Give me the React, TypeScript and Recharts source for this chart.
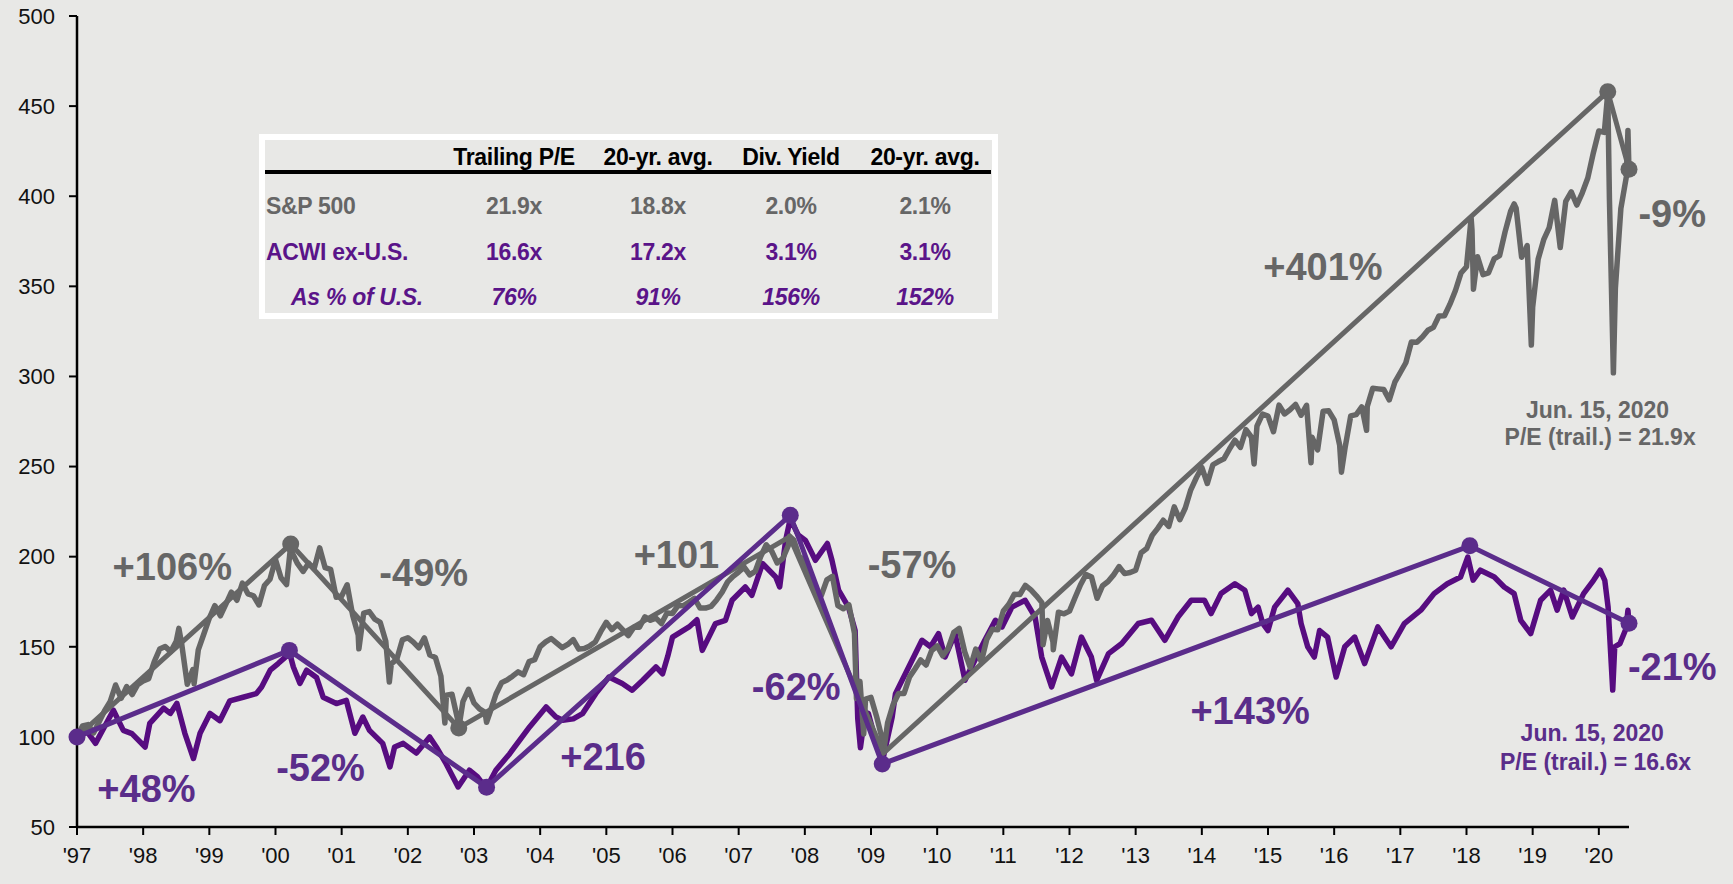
import React from "react";
import { LineChart, Line, XAxis, YAxis, ReferenceDot } from "recharts";

// S&P 500 price index, rebased to 100 at 1997 (year fraction, level)
const SPX_POINTS: [number, number][] = [
  [1997.0, 100], [1997.083, 106.1], [1997.167, 106.8], [1997.25, 102.2], [1997.333, 108.2], [1997.417, 114.5],
  [1997.5, 119.5], [1997.583, 128.8], [1997.667, 121.4], [1997.75, 127.9], [1997.833, 123.5], [1997.917, 129.0],
  [1998.0, 131.0], [1998.083, 132.3], [1998.167, 141.7], [1998.25, 148.7], [1998.333, 150.1], [1998.417, 147.3],
  [1998.5, 153.1], [1998.54, 160.2], [1998.583, 151.3], [1998.667, 129.2], [1998.75, 137.3], [1998.77, 129.5],
  [1998.833, 148.3], [1998.917, 157.1],
  [1999.0, 165.9], [1999.083, 172.8], [1999.167, 167.2], [1999.25, 173.7], [1999.333, 180.3], [1999.417, 175.8],
  [1999.5, 185.3], [1999.583, 179.4], [1999.667, 178.3], [1999.75, 173.2], [1999.833, 184.0], [1999.917, 187.5],
  [2000.0, 198.4], [2000.083, 188.3], [2000.167, 184.5], [2000.23, 206.2], [2000.25, 202.3], [2000.333, 196.1],
  [2000.417, 191.8], [2000.5, 196.4], [2000.583, 193.2], [2000.667, 204.9], [2000.75, 193.9], [2000.833, 193.0],
  [2000.917, 177.5],
  [2001.0, 178.2], [2001.083, 184.4], [2001.167, 167.4], [2001.25, 156.6], [2001.26, 148.9], [2001.333, 168.7],
  [2001.417, 169.5], [2001.5, 165.3], [2001.583, 163.5], [2001.667, 153.0], [2001.72, 130.4], [2001.75, 140.5],
  [2001.833, 143.1], [2001.917, 153.8],
  [2002.0, 155.0], [2002.083, 152.6], [2002.167, 149.4], [2002.25, 154.9], [2002.333, 145.4], [2002.417, 144.1],
  [2002.5, 133.6], [2002.56, 107.7], [2002.583, 123.1], [2002.667, 123.7], [2002.75, 110.1], [2002.77, 104.9],
  [2002.833, 119.6], [2002.917, 126.4],
  [2003.0, 118.8], [2003.083, 115.5], [2003.167, 113.6], [2003.19, 108.1], [2003.25, 114.5], [2003.333, 123.8],
  [2003.417, 130.1], [2003.5, 131.6], [2003.583, 133.7], [2003.667, 136.1], [2003.75, 134.5], [2003.833, 141.8],
  [2003.917, 142.9],
  [2004.0, 150.1], [2004.083, 152.7], [2004.167, 154.6], [2004.25, 152.0], [2004.333, 149.5], [2004.417, 151.3],
  [2004.5, 154.0], [2004.583, 148.7], [2004.667, 149.1], [2004.75, 150.5], [2004.833, 152.6], [2004.917, 158.5],
  [2005.0, 163.6], [2005.083, 159.5], [2005.167, 162.5], [2005.25, 159.4], [2005.333, 156.2], [2005.417, 160.9],
  [2005.5, 160.8], [2005.583, 166.6], [2005.667, 164.7], [2005.75, 165.9], [2005.833, 162.9], [2005.917, 168.7],
  [2006.0, 168.5], [2006.083, 172.8], [2006.167, 172.9], [2006.25, 174.8], [2006.333, 176.9], [2006.417, 171.5],
  [2006.5, 171.5], [2006.583, 172.4], [2006.667, 176.0], [2006.75, 180.3], [2006.833, 186.0], [2006.917, 189.1],
  [2007.0, 191.5], [2007.083, 194.2], [2007.167, 189.9], [2007.25, 191.8], [2007.333, 200.1], [2007.417, 206.6],
  [2007.5, 203.0], [2007.583, 196.5], [2007.667, 199.0], [2007.75, 206.1], [2007.77, 211.3], [2007.833, 209.2],
  [2007.917, 200.0],
  [2008.0, 198.2], [2008.083, 186.1], [2008.167, 179.6], [2008.25, 178.6], [2008.333, 187.1], [2008.417, 189.1],
  [2008.5, 172.8], [2008.583, 171.1], [2008.667, 173.2], [2008.75, 157.5], [2008.78, 121.4], [2008.833, 130.8],
  [2008.89, 101.6], [2008.917, 121.0],
  [2009.0, 121.9], [2009.083, 111.5], [2009.167, 99.2], [2009.19, 91.3], [2009.25, 107.7], [2009.333, 117.8],
  [2009.417, 124.1], [2009.5, 124.1], [2009.583, 133.3], [2009.667, 137.8], [2009.75, 142.7], [2009.833, 139.9],
  [2009.917, 147.9],
  [2010.0, 150.5], [2010.083, 145.0], [2010.167, 149.1], [2010.25, 157.9], [2010.333, 160.2], [2010.417, 147.1],
  [2010.5, 138.5], [2010.583, 148.7], [2010.667, 141.7], [2010.75, 154.1], [2010.833, 159.7], [2010.917, 159.4],
  [2011.0, 169.8], [2011.083, 173.6], [2011.167, 179.2], [2011.25, 179.0], [2011.333, 184.1], [2011.417, 181.6],
  [2011.5, 178.3], [2011.583, 174.5], [2011.6, 151.1], [2011.667, 164.6], [2011.75, 152.7], [2011.755, 148.4],
  [2011.833, 169.2], [2011.917, 168.3],
  [2012.0, 169.8], [2012.083, 177.2], [2012.167, 184.4], [2012.25, 190.1], [2012.333, 188.7], [2012.417, 176.9],
  [2012.5, 183.9], [2012.583, 186.2], [2012.667, 189.9], [2012.75, 194.5], [2012.833, 190.6], [2012.917, 191.2],
  [2013.0, 192.5], [2013.083, 202.2], [2013.167, 204.5], [2013.25, 211.8], [2013.333, 215.7], [2013.417, 220.2],
  [2013.5, 216.8], [2013.583, 227.6], [2013.667, 220.5], [2013.75, 227.0], [2013.833, 237.1], [2013.917, 243.8],
  [2014.0, 249.5], [2014.083, 240.6], [2014.167, 251.0], [2014.25, 252.8], [2014.333, 254.3], [2014.417, 259.7],
  [2014.5, 264.6], [2014.583, 260.6], [2014.667, 270.5], [2014.75, 266.3], [2014.79, 251.4], [2014.833, 272.4],
  [2014.917, 279.1],
  [2015.0, 278.0], [2015.083, 269.3], [2015.167, 284.1], [2015.25, 279.2], [2015.333, 281.5], [2015.417, 284.5],
  [2015.5, 278.5], [2015.583, 284.0], [2015.65, 252.1], [2015.667, 266.2], [2015.75, 259.2], [2015.833, 280.7],
  [2015.917, 280.9],
  [2016.0, 275.9], [2016.083, 261.9], [2016.11, 246.9], [2016.167, 260.9], [2016.25, 278.1], [2016.333, 278.8],
  [2016.417, 283.1], [2016.49, 270.1], [2016.5, 283.3], [2016.583, 293.4], [2016.667, 293.1], [2016.75, 292.7],
  [2016.833, 287.0], [2016.917, 296.8],
  [2017.0, 302.2], [2017.083, 307.6], [2017.167, 319.1], [2017.25, 319.0], [2017.333, 321.9], [2017.417, 325.6],
  [2017.5, 327.2], [2017.583, 333.5], [2017.667, 333.7], [2017.75, 340.1], [2017.833, 347.7], [2017.917, 357.4],
  [2018.0, 360.9], [2018.07, 387.8], [2018.083, 381.2], [2018.105, 348.4], [2018.167, 366.4], [2018.25, 356.5],
  [2018.333, 357.5], [2018.417, 365.2], [2018.5, 367.0], [2018.583, 380.2], [2018.667, 391.7], [2018.72, 395.7],
  [2018.75, 393.4], [2018.833, 366.1], [2018.917, 372.6], [2018.98, 317.4],
  [2019.0, 338.4], [2019.083, 365.1], [2019.167, 375.9], [2019.25, 382.6], [2019.333, 397.7], [2019.417, 371.5],
  [2019.5, 397.1], [2019.583, 402.4], [2019.667, 395.1], [2019.75, 401.9], [2019.833, 410.1], [2019.917, 424.0],
  [2020.0, 436.2], [2020.083, 435.4], [2020.135, 457.1], [2020.16, 398.8], [2020.22, 302.0], [2020.25, 348.9],
  [2020.333, 393.2], [2020.417, 411.0], [2020.44, 436.4], [2020.456, 414.0],
];

// MSCI ACWI ex-U.S., rebased to 100 at 1997
const ACWI_POINTS: [number, number][] = [
  [1997.0, 100], [1997.15, 103], [1997.28, 96.4], [1997.45, 108], [1997.55, 114.8], [1997.7, 103.6],
  [1997.83, 101.8], [1998.03, 94.4], [1998.1, 107.5], [1998.31, 115.9], [1998.41, 113], [1998.51, 118.6],
  [1998.63, 102], [1998.76, 88], [1998.86, 102], [1999.01, 113], [1999.16, 109], [1999.31, 120],
  [1999.51, 122], [1999.71, 124], [1999.79, 127.7], [1999.92, 137], [2000.04, 140.7], [2000.14, 144],
  [2000.21, 147], [2000.27, 138.8], [2000.37, 129.7], [2000.47, 137], [2000.62, 133], [2000.72, 122],
  [2000.92, 118.5], [2001.07, 120.3], [2001.2, 102], [2001.32, 111], [2001.42, 103.6], [2001.62, 96.4],
  [2001.73, 83.3], [2001.8, 94.4], [2001.93, 96.4], [2002.13, 91], [2002.33, 100], [2002.43, 94.4],
  [2002.58, 85], [2002.76, 72.2], [2002.93, 81.5], [2003.05, 78], [2003.13, 74], [2003.2, 72.5],
  [2003.33, 81.5], [2003.54, 90.7], [2003.84, 105.5], [2004.09, 116.6], [2004.24, 111], [2004.34, 109.2],
  [2004.5, 110], [2004.64, 112.9], [2004.84, 124], [2005.04, 133.2], [2005.24, 129.6], [2005.39, 125.9],
  [2005.55, 131.4], [2005.75, 138.8], [2005.85, 135], [2005.93, 145], [2006.0, 155.4], [2006.25, 161],
  [2006.37, 165], [2006.45, 148], [2006.65, 162.9], [2006.8, 164.7], [2006.9, 175.8], [2007.1, 183.2],
  [2007.2, 178.6], [2007.36, 196.2], [2007.56, 188.7], [2007.62, 183.2], [2007.71, 209], [2007.78, 221],
  [2007.9, 212], [2008.01, 209], [2008.16, 198], [2008.34, 207.3], [2008.41, 198], [2008.51, 181.4],
  [2008.66, 172], [2008.76, 159], [2008.8, 110], [2008.84, 94], [2008.9, 110], [2008.96, 113],
  [2009.07, 98], [2009.17, 86], [2009.32, 111], [2009.37, 124], [2009.57, 138.8], [2009.77, 153.6],
  [2009.9, 150], [2010.02, 157.3], [2010.12, 144.3], [2010.27, 157.3], [2010.42, 131.4], [2010.57, 142.5],
  [2010.72, 153.6], [2010.88, 164.7], [2010.98, 161], [2011.13, 172], [2011.33, 175.8], [2011.48, 166.5],
  [2011.58, 144.3], [2011.73, 127.7], [2011.88, 144.3], [2012.03, 135], [2012.18, 155.4], [2012.33, 144.3],
  [2012.41, 131.4], [2012.59, 146.2], [2012.79, 151.8], [2013.04, 162.9], [2013.24, 164.7], [2013.44, 153.6],
  [2013.64, 166.5], [2013.84, 175.8], [2014.04, 175.8], [2014.14, 168.4], [2014.29, 179.5], [2014.5, 185],
  [2014.65, 181.4], [2014.75, 168.4], [2014.85, 172], [2014.92, 163], [2015.0, 159], [2015.1, 172],
  [2015.3, 181.4], [2015.45, 174], [2015.5, 162.9], [2015.6, 150], [2015.7, 144.3], [2015.78, 159],
  [2015.9, 155.4], [2016.03, 133.2], [2016.16, 150], [2016.31, 155.4], [2016.46, 140.7], [2016.66, 161],
  [2016.86, 150], [2017.06, 162.9], [2017.31, 170.3], [2017.51, 179.5], [2017.71, 185], [2017.91, 188.7],
  [2018.02, 199.8], [2018.1, 187], [2018.21, 192.5], [2018.42, 188.7], [2018.57, 183.2], [2018.72, 179.5],
  [2018.82, 164.7], [2018.97, 157.3], [2019.12, 175.8], [2019.27, 181.4], [2019.37, 170.3], [2019.47, 181.4],
  [2019.6, 166.5], [2019.77, 179.5], [2019.92, 186.9], [2020.02, 192.5], [2020.09, 186.9], [2020.14, 172],
  [2020.21, 126], [2020.24, 150], [2020.32, 151.8], [2020.41, 160], [2020.44, 170.3], [2020.456, 163],
];

// peak / trough legs
const SPX_TREND_T = [1997.0, 2000.23, 2002.77, 2007.77, 2009.19, 2020.135, 2020.456];
const SPX_TREND_V = [100, 207, 105, 211, 91, 458, 415];
const SPX_TREND_MARK = [false, true, true, false, false, true, true];
const ACWI_TREND_T = [1997.0, 2000.21, 2003.19, 2007.78, 2009.17, 2018.05, 2020.456];
const ACWI_TREND_V = [100, 148, 72, 223, 85, 206, 163];

const SPX_MOVES = ["+106%", "-49%", "+101", "-57%", "+401%", "-9%"];
const ACWI_MOVES = ["+48%", "-52%", "+216", "-62%", "+143%", "-21%"];
const SPX_NOTE = ["Jun. 15, 2020", "P/E (trail.) = 21.9x"];
const ACWI_NOTE = ["Jun. 15, 2020", "P/E (trail.) = 16.6x"];

const YEAR_TICKS = [1997, 1998, 1999, 2000, 2001, 2002, 2003, 2004, 2005, 2006, 2007, 2008,
  2009, 2010, 2011, 2012, 2013, 2014, 2015, 2016, 2017, 2018, 2019, 2020];
const LEVEL_TICKS = [50, 100, 150, 200, 250, 300, 350, 400, 450, 500];

const TABLE_HEAD = ["Trailing P/E", "20-yr. avg.", "Div. Yield", "20-yr. avg."];
const TABLE_ROWS = ["S&P 500", "ACWI ex-U.S.", "As % of U.S."];
const SPX_STATS = ["21.9x", "18.8x", "2.0%", "2.1%"];
const ACWI_STATS = ["16.6x", "17.2x", "3.1%", "3.1%"];
const RATIO_STATS = ["76%", "91%", "156%", "152%"];

const BG = "#e8e8e6";
const GRAY = "#666666";
const PURPLE = "#570c80";
const PURPLE_TREND = "#5b2c8b";
const PURPLE_TEXT = "#5a2d8a";
const FONT = "Arial, 'Liberation Sans', sans-serif";

const toRows = (pts: [number, number][]) => pts.map(([t, v]) => ({ t, v }));
const spxData = toRows(SPX_POINTS);
const acwiData = toRows(ACWI_POINTS);
const spxTrend = SPX_TREND_T.map((t, i) => ({ t, v: SPX_TREND_V[i], mark: SPX_TREND_MARK[i] }));
const acwiTrend = ACWI_TREND_T.map((t, i) => ({ t, v: ACWI_TREND_V[i], mark: true }));

// where the annotations sit, in chart units
const SPX_MOVE_AT = [[1998.44, 194.6], [2002.24, 191], [2006.06, 201.3], [2009.62, 195.8], [2015.83, 360.9], [2021.11, 390.3]];
const ACWI_MOVE_AT = [[1998.05, 71.5], [2000.68, 82.9], [2004.95, 89], [2007.87, 128.1], [2014.73, 114.8], [2021.11, 138.9]];
const SPX_NOTE_AT = [[2019.98, 281.2], [2020.02, 266.3]];
const ACWI_NOTE_AT = [[2019.9, 102], [2019.95, 85.9]];

const markerDot = (color: string) => (props: any) => {
  const { cx, cy, index, payload } = props;
  if (!payload || !payload.mark) return <g key={"m" + index} />;
  return <circle key={"m" + index} cx={cx} cy={cy} r={8.5} fill={color} />;
};

function textAt(key: string, x: number, y: number, text: string, color: string, size: number) {
  return (
    <ReferenceDot
      key={key}
      x={x}
      y={y}
      r={0}
      fill="none"
      stroke="none"
      ifOverflow="visible"
      label={{ value: text, position: "center", fill: color, fontSize: size, fontWeight: 700, fontFamily: FONT }}
    />
  );
}

const COL_X = [514, 658, 791, 925];
const ROW_Y = [205.6, 252, 297.3];

function StatsTable() {
  const cell = (x: number, y: number, text: string, style: React.CSSProperties, key: string, align = "center") => (
    <div
      key={key}
      style={{
        position: "absolute",
        left: x,
        top: y,
        transform: align === "center" ? "translate(-50%, -50%)" : "translate(0, -50%)",
        whiteSpace: "nowrap",
        fontSize: 23,
        fontWeight: 700,
        lineHeight: "26px",
        letterSpacing: -0.3,
        ...style,
      }}
    >
      {text}
    </div>
  );
  const rows = [SPX_STATS, ACWI_STATS, RATIO_STATS];
  const rowStyle: React.CSSProperties[] = [
    { color: GRAY },
    { color: "#5a1489" },
    { color: "#5a1489", fontStyle: "italic" },
  ];
  return (
    <>
      <div
        style={{
          position: "absolute",
          left: 259,
          top: 134,
          width: 739,
          height: 185,
          boxSizing: "border-box",
          border: "6px solid #ffffff",
        }}
      />
      <div style={{ position: "absolute", left: 265, top: 170, width: 726, height: 4, background: "#000" }} />
      {TABLE_HEAD.map((h, i) => cell(COL_X[i], 157, h, { color: "#000" }, "h" + i))}
      {TABLE_ROWS.map((r, i) => cell(i === 2 ? 291 : 266, ROW_Y[i], r, rowStyle[i], "r" + i, "left"))}
      {rows.map((vals, ri) => vals.map((v, ci) => cell(COL_X[ci], ROW_Y[ri], v, rowStyle[ri], `c${ri}-${ci}`)))}
    </>
  );
}

export default function App() {
  return (
    <div style={{ position: "relative", width: 1733, height: 884, background: BG, fontFamily: FONT, overflow: "hidden" }}>
      <style>{`body{margin:0;background:${BG};}`}</style>
      <LineChart width={1733} height={884} margin={{ top: 16, right: 104, bottom: 0, left: 0 }}>
        <XAxis
          dataKey="t"
          type="number"
          domain={[1997, 2020.456]}
          ticks={YEAR_TICKS}
          interval={0}
          tickFormatter={(v: number) => "'" + String(v).slice(2)}
          height={57}
          axisLine={{ stroke: "#000", strokeWidth: 2.5 }}
          tickLine={{ stroke: "#000", strokeWidth: 2 }}
          tickSize={8}
          tickMargin={12}
          tick={{ fill: "#111", fontSize: 22, fontFamily: FONT }}
        />
        <YAxis
          dataKey="v"
          type="number"
          domain={[50, 500]}
          ticks={LEVEL_TICKS}
          interval={0}
          width={77}
          axisLine={{ stroke: "#000", strokeWidth: 2.5 }}
          tickLine={{ stroke: "#000", strokeWidth: 2 }}
          tickSize={8}
          tickMargin={14}
          tick={{ fill: "#111", fontSize: 22, fontFamily: FONT }}
        />
        <Line data={acwiData} dataKey="v" stroke={PURPLE} strokeWidth={5.5} dot={false} isAnimationActive={false} strokeLinejoin="round" />
        <Line data={spxData} dataKey="v" stroke={GRAY} strokeWidth={5.5} dot={false} isAnimationActive={false} strokeLinejoin="round" />
        <Line data={spxTrend} dataKey="v" stroke={GRAY} strokeWidth={5} dot={markerDot(GRAY)} activeDot={false} isAnimationActive={false} />
        <Line data={acwiTrend} dataKey="v" stroke={PURPLE_TREND} strokeWidth={5} dot={markerDot(PURPLE_TREND)} activeDot={false} isAnimationActive={false} />
        {SPX_MOVES.map((s, i) => textAt("sm" + i, SPX_MOVE_AT[i][0], SPX_MOVE_AT[i][1], s, GRAY, 38))}
        {ACWI_MOVES.map((s, i) => textAt("am" + i, ACWI_MOVE_AT[i][0], ACWI_MOVE_AT[i][1], s, PURPLE_TEXT, 38))}
        {SPX_NOTE.map((s, i) => textAt("sn" + i, SPX_NOTE_AT[i][0], SPX_NOTE_AT[i][1], s, GRAY, 23))}
        {ACWI_NOTE.map((s, i) => textAt("an" + i, ACWI_NOTE_AT[i][0], ACWI_NOTE_AT[i][1], s, PURPLE_TEXT, 23))}
      </LineChart>
      <StatsTable />
    </div>
  );
}
